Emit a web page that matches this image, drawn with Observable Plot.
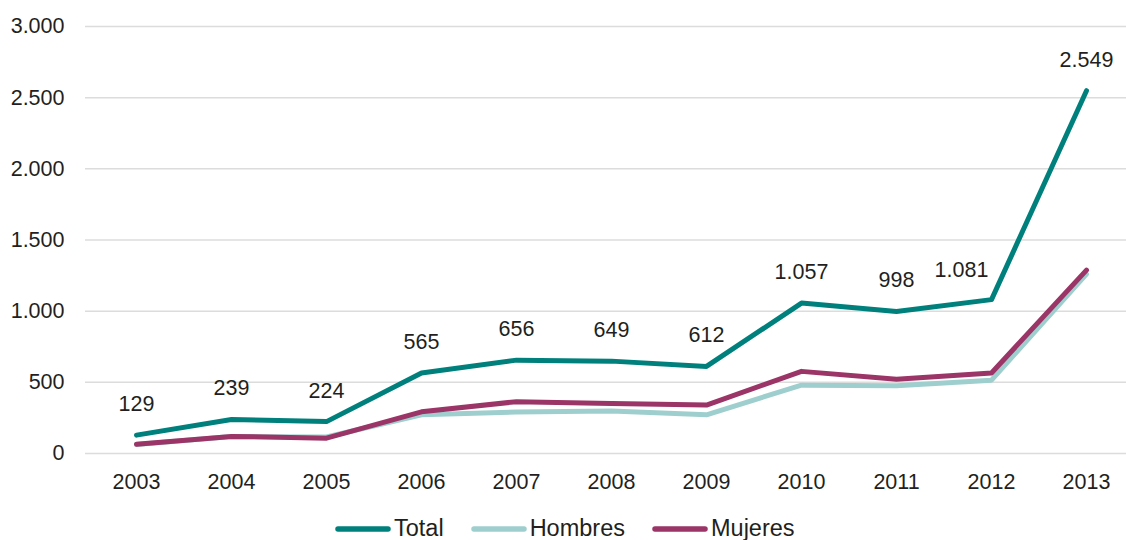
<!DOCTYPE html>
<html>
<head>
<meta charset="utf-8">
<script src="https://cdn.jsdelivr.net/npm/d3@7"></script>
<script src="https://cdn.jsdelivr.net/npm/@observablehq/plot@0.6"></script>
<style>
  html, body { margin: 0; padding: 0; background: #fff; }
  #wrap { position: relative; width: 1126px; height: 540px; overflow: hidden; font-family: "Liberation Sans", Arial, Helvetica, sans-serif; }
  #legend { position: absolute; left: 335px; top: 515px; display: flex; align-items: center; font-size: 23.5px; color: #231f20; }
  .item { display: flex; align-items: center; margin-right: 27px; }
  .item svg { margin-right: 3px; }
</style>
</head>
<body>
<div id="wrap">
  <div id="chart"></div>
  <div id="legend"></div>
</div>
<script>
const years = ["2003","2004","2005","2006","2007","2008","2009","2010","2011","2012","2013"];
const total = [129, 239, 224, 565, 656, 649, 612, 1057, 998, 1081, 2549];
const hombres = [64, 119, 116, 272, 292, 298, 272, 480, 476, 515, 1261];
const mujeres = [65, 120, 108, 293, 364, 351, 340, 577, 522, 566, 1288];
const yTicks = [0, 500, 1000, 1500, 2000, 2500, 3000];
const seriesNames = ["Total", "Hombres", "Mujeres"];
const seriesColors = ["#00807c", "#9ecfce", "#9b3467"];

const es = d3.formatLocale({decimal: ",", thousands: ".", grouping: [3], currency: ["", "€"]});
const fmt = es.format(",");

const rows = [];
years.forEach((y, i) => {
  rows.push({year: y, serie: "Hombres", value: hombres[i]});
  rows.push({year: y, serie: "Mujeres", value: mujeres[i]});
  rows.push({year: y, serie: "Total", value: total[i]});
});
const totals = years.map((y, i) => ({year: y, value: total[i]}));
const shiftedLabel = "2012";

const color = d => seriesColors[seriesNames.indexOf(d)];

const chart = Plot.plot({
  width: 1126,
  height: 510,
  marginLeft: 85,
  marginRight: 0,
  marginTop: 26,
  marginBottom: 57,
  style: {fontFamily: "'Liberation Sans', Arial, Helvetica, sans-serif", fontSize: "21.5px", color: "#231f20", background: "#fff"},
  x: {type: "point", domain: years, range: [133, 1088], padding: 0, label: null},
  y: {domain: [0, 3000], label: null},
  marks: [
    Plot.ruleY(yTicks, {stroke: "#dcdcdc", strokeWidth: 1.5}),
    Plot.axisY(yTicks, {tickSize: 0, tickPadding: 21, tickFormat: fmt, label: null, fontSize: 21.5}),
    Plot.axisX({tickSize: 0, tickPadding: 20, label: null, fontSize: 21.5}),
    ...["Hombres", "Mujeres", "Total"].map(s =>
      Plot.lineY(rows.filter(r => r.serie === s), {x: "year", y: "value", stroke: color(s), strokeWidth: 5, strokeLinejoin: "round", strokeLinecap: "round"})
    ),
    Plot.text(totals.filter(d => d.year !== shiftedLabel), {x: "year", y: "value", text: d => fmt(d.value), dy: -31, fontSize: 21.5, fill: "#231f20"}),
    Plot.text(totals.filter(d => d.year === shiftedLabel), {x: "year", y: "value", text: d => fmt(d.value), dy: -30, dx: -30, fontSize: 21.5, fill: "#231f20"})
  ]
});
document.getElementById("chart").appendChild(chart);

const legend = document.getElementById("legend");
seriesNames.forEach((name, i) => {
  const item = document.createElement("div");
  item.className = "item";
  item.innerHTML = `<svg width="56" height="10"><line x1="3" x2="53" y1="5" y2="5" stroke="${seriesColors[i]}" stroke-width="5.5" stroke-linecap="round"/></svg><span>${name}</span>`;
  legend.appendChild(item);
});
</script>
</body>
</html>
